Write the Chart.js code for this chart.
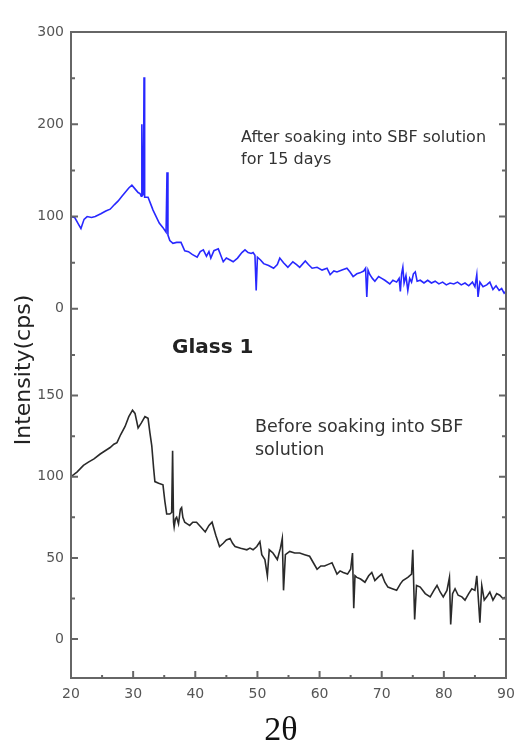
<!DOCTYPE html>
<html><head><meta charset="utf-8">
<script src="https://cdn.jsdelivr.net/npm/chart.js@4/dist/chart.umd.min.js"></script>
<style>html,body{margin:0;padding:0;background:#fff;}#wrap{width:516px;height:751px;}</style>
</head><body><div id="wrap"><canvas id="c" width="516" height="751"></canvas></div>
<script>
// After soaking into SBF (blue, top panel)
const afterX = [20.0,20.6,21.1,21.6,22.1,22.6,23.3,23.9,24.8,25.6,26.3,27.0,27.6,28.2,28.7,29.3,29.8,30.3,30.8,31.1,31.3,31.4,31.5,31.65,31.75,31.85,32.4,32.8,33.2,33.7,34.2,34.8,35.3,35.45,35.6,35.9,36.4,37.0,37.7,38.3,38.9,39.5,40.3,40.8,41.3,41.8,42.2,42.5,43.0,43.7,44.1,44.5,45.0,45.6,46.1,46.8,47.5,48.0,48.5,49.0,49.3,49.6,49.8,50.0,50.5,51.0,51.8,52.6,53.2,53.6,54.2,54.9,55.7,56.3,56.8,57.7,58.2,58.8,59.6,60.4,61.2,61.7,62.3,62.8,63.6,64.4,64.9,65.4,66.0,66.5,67.1,67.4,67.6,67.8,68.1,68.5,68.9,69.5,70.0,70.5,71.3,71.8,72.4,72.8,73.0,73.2,73.4,73.6,73.9,74.2,74.5,74.8,75.1,75.4,75.7,76.2,76.8,77.4,78.0,78.6,79.2,79.8,80.4,81.0,81.6,82.2,82.8,83.4,84.0,84.6,85.0,85.3,85.5,85.8,86.3,86.9,87.4,87.9,88.4,88.9,89.3,89.7,90.0];
const afterY = [100,99,93,87,97,100,99,100,103,106,108,113,117,122,126,131,134,130,126,125,122,200,123,124,251,121,121,114,107,100,93,88,83,148,80,74,71,72,72,63,62,59,56,62,64,57,62,55,63,65,58,51,55,53,51,55,61,64,61,60,61,58,20,56,53,49,47,44,48,55,50,45,51,48,45,52,48,44,45,42,44,37,41,40,42,44,40,35,38,39,41,44,13,42,37,33,30,35,33,31,27,31,29,33,19,38,45,28,36,20,33,29,38,40,30,31,28,31,28,30,27,29,26,28,27,29,26,28,25,29,24,37,13,29,24,26,29,21,25,20,22,17,19];
// Before soaking into SBF (black, bottom panel)
const beforeX = [20.0,21.0,22.0,22.8,23.7,24.7,25.5,26.3,26.9,27.4,28.0,28.7,29.3,29.9,30.3,30.8,31.3,31.9,32.4,32.7,33.0,33.3,33.5,34.1,34.8,35.1,35.4,35.9,36.2,36.35,36.5,36.6,36.8,37.0,37.3,37.6,37.8,38.0,38.3,38.7,39.1,39.6,40.2,40.9,41.6,42.2,42.7,43.3,43.9,44.5,45.0,45.6,46.0,46.4,47.3,48.3,48.8,49.3,49.9,50.4,50.7,51.2,51.6,51.9,52.5,53.2,53.7,54.0,54.2,54.5,55.2,56.0,56.8,57.6,58.4,59.0,59.6,60.2,60.8,61.4,62.0,62.8,63.3,63.8,64.5,65.0,65.3,65.5,65.7,66.0,66.6,67.3,67.9,68.4,68.9,69.4,70.0,70.5,71.0,71.7,72.4,73.0,73.4,74.2,74.8,75.0,75.3,75.6,76.2,77.0,77.8,78.4,78.9,79.4,79.9,80.5,80.9,81.1,81.4,81.8,82.3,82.9,83.4,84.0,84.5,85.0,85.3,85.6,85.8,86.1,86.5,86.9,87.4,87.9,88.5,89.0,89.5,90.0];
const beforeY = [100,103,107,109,111,114,116,118,120,121,126,131,137,141,139,130,133,137,136,127,119,105,97,96,95,85,77,77,78,116,72,69,74,75,71,80,81,75,72,71,70,72,72,69,66,70,72,64,57,59,61,62,59,57,56,55,56,55,57,60,52,49,39,55,53,49,56,62,30,52,54,53,53,52,51,47,43,45,45,46,47,40,42,41,40,43,53,19,39,38,37,35,39,41,36,38,40,35,32,31,30,34,36,38,40,55,12,33,32,28,26,30,33,29,26,30,38,9,28,31,27,26,24,28,31,30,39,22,10,33,24,26,29,24,28,27,25,26];
// Axis settings
const xMin = 20, xMax = 90, xStep = 5, xLabelEvery = 10;
const topMin = -50, topMax = 300, topStep = 50, topLabelEvery = 100;
const botMin = -24, botMax = 175, botStep = 25, botLabelEvery = 50, botLabelMax = 150;

const toPts = (xs, ys) => xs.map((x, i) => ({x, y: ys[i]}));
const tickFont = {family: 'DejaVu Sans', size: 14};
const tickColor = '#555';

const framePlugin = {
  id: 'frame',
  afterDatasetsDraw(chart) {
    const ctx = chart.ctx, a = chart.chartArea;
    ctx.save();
    ctx.strokeStyle = '#666';
    ctx.lineWidth = 2;
    ctx.strokeRect(a.left, a.top, a.right - a.left, a.bottom - a.top);
    const drawY = (scale, every, skipMin) => {
      scale.ticks.forEach(t => {
        const v = t.value;
        if (v % scale.options.ticks.stepSize !== 0) return;
        if (skipMin && v === scale.min) return;
        const p = scale.getPixelForValue(v);
        if (p <= a.top + 1 || p >= a.bottom - 1) return;
        const len = (v % every === 0) ? 7 : 4;
        ctx.beginPath();
        ctx.moveTo(a.left, p); ctx.lineTo(a.left + len, p);
        ctx.moveTo(a.right, p); ctx.lineTo(a.right - len, p);
        ctx.stroke();
      });
    };
    drawY(chart.scales.yTop, topLabelEvery, true);
    drawY(chart.scales.yBot, botLabelEvery, false);
    const xs = chart.scales.x;
    xs.ticks.forEach(t => {
      const p = xs.getPixelForValue(t.value);
      if (p <= a.left + 1 || p >= a.right - 1) return;
      const len = (t.value % xLabelEvery === 0) ? 7 : 3;
      ctx.beginPath();
      ctx.moveTo(p, a.bottom); ctx.lineTo(p, a.bottom - len);
      ctx.stroke();
    });
    ctx.restore();
  },
  afterDraw(chart) {
    const ctx = chart.ctx;
    ctx.save();
    ctx.textBaseline = 'middle';
    ctx.textAlign = 'left';
    ctx.fillStyle = '#333';
    ctx.font = '16px "DejaVu Sans"';
    ctx.fillText('After soaking into SBF solution', 241, 138);
    ctx.fillText('for 15 days', 241, 160);
    ctx.font = '17.5px "DejaVu Sans"';
    ctx.fillText('Before soaking into SBF', 255, 427);
    ctx.fillText('solution', 255, 450);
    ctx.fillStyle = '#222';
    ctx.font = 'bold 20px "DejaVu Sans"';
    ctx.fillText('Glass 1', 172, 348);
    ctx.textAlign = 'center';
    ctx.save();
    ctx.translate(24, 370);
    ctx.rotate(-Math.PI / 2);
    ctx.font = '22px "DejaVu Sans"';
    ctx.fillText('Intensity(cps)', 0, 0);
    ctx.restore();
    ctx.fillStyle = '#111';
    ctx.font = '34px "Liberation Serif"';
    ctx.fillText('2\u03B8', 281, 731);
    ctx.restore();
  }
};

new Chart(document.getElementById('c'), {
  type: 'line',
  data: {
    datasets: [
      {label: 'After soaking into SBF solution for 15 days', data: toPts(afterX, afterY), yAxisID: 'yTop',
       borderColor: 'rgb(40,40,255)', borderWidth: 1.6, pointRadius: 0, tension: 0, fill: false},
      {label: 'Before soaking into SBF solution', data: toPts(beforeX, beforeY), yAxisID: 'yBot',
       borderColor: '#2a2a2a', borderWidth: 1.6, pointRadius: 0, tension: 0, fill: false}
    ]
  },
  options: {
    responsive: false,
    animation: false,
    devicePixelRatio: 1,
    layout: {padding: {top: 32, right: 10, left: 0, bottom: 0}},
    plugins: {legend: {display: false}, tooltip: {enabled: false}},
    scales: {
      x: {
        type: 'linear', min: xMin, max: xMax,
        grid: {display: false, drawTicks: false}, border: {display: false},
        ticks: {stepSize: xStep, font: tickFont, color: tickColor, padding: 8, maxRotation: 0, autoSkip: false,
                callback: v => (v % xLabelEvery === 0 ? String(v) : '')},
        afterFit: s => { s.height = 73; s.paddingRight = 0; s.paddingLeft = 0; }
      },
      yBot: {
        type: 'linear', position: 'left', stack: 'v', stackWeight: 1, min: botMin, max: botMax,
        grid: {display: false, drawTicks: false}, border: {display: false},
        ticks: {stepSize: botStep, includeBounds: false, font: tickFont, color: tickColor, padding: 7, autoSkip: false,
                callback: v => (v >= 0 && v % botLabelEvery === 0 && v <= botLabelMax ? String(v) : '')},
        afterFit: s => { s.width = 71; }
      },
      yTop: {
        type: 'linear', position: 'left', stack: 'v', stackWeight: 1, min: topMin, max: topMax,
        grid: {display: false, drawTicks: false}, border: {display: false},
        ticks: {stepSize: topStep, font: tickFont, color: tickColor, padding: 7, autoSkip: false,
                callback: v => (v >= 0 && v % topLabelEvery === 0 ? String(v) : '')},
        afterFit: s => { s.width = 71; }
      }
    }
  },
  plugins: [framePlugin]
});
</script></body></html>
